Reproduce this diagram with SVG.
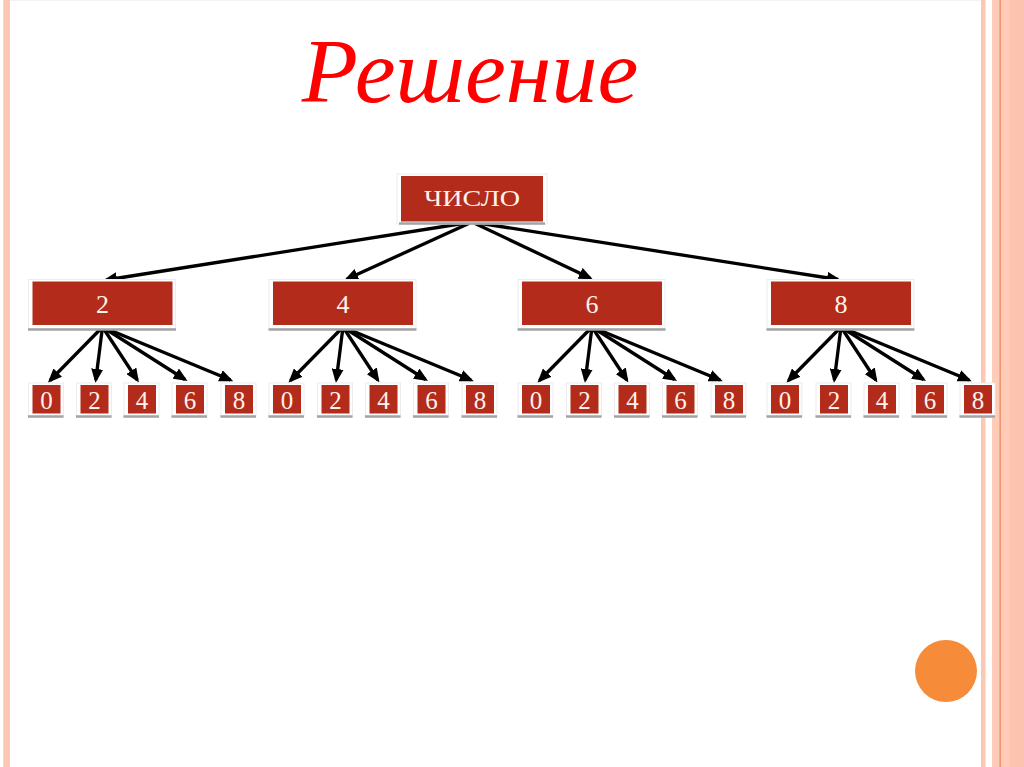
<svg xmlns="http://www.w3.org/2000/svg" width="1024" height="767" viewBox="0 0 1024 767">
<style>
.box{fill:#B32B1A}
.halo{fill:#fff;stroke:#ececec;stroke-width:1}
.sh{stroke:#a3a3a3;stroke-width:2.5}
.lbl{font-family:"Liberation Serif","DejaVu Serif",serif;fill:#FFF1EC;text-anchor:middle}
.edge{stroke:#000;stroke-width:3.3;fill:none;marker-end:url(#ah)}
</style>
<defs>
<marker id="ah" markerUnits="userSpaceOnUse" markerWidth="14" markerHeight="12" refX="11" refY="6" orient="auto">
<path d="M0,0 L14,6 L0,12 z" fill="#000"/>
</marker>
</defs>
<rect width="1024" height="767" fill="#fff"/>
<!-- frame stripes -->
<rect x="3.3" y="0" width="6.7" height="767" fill="#FCC8B4"/>
<rect x="981" y="0" width="4.5" height="767" fill="#FCC8B4"/>
<rect x="992" y="0" width="32" height="767" fill="#FDCBB8"/>
<rect x="1010" y="0" width="14" height="767" fill="#FCC3AE"/>
<rect x="999.5" y="0" width="1.3" height="767" fill="#EE8A5E"/>
<line x1="10" y1="0.5" x2="981" y2="0.5" stroke="#f3f3f3" stroke-width="1"/>
<circle cx="946" cy="671" r="31" fill="#F68B39"/>
<text x="470" y="102" font-family="'Liberation Serif','DejaVu Serif',serif" font-style="italic" font-size="92" fill="#FF0000" text-anchor="middle">Решение</text>

<g id="connectors">
<line class="edge" x1="472" y1="222" x2="106" y2="280"/>
<line class="edge" x1="472" y1="222" x2="347" y2="279"/>
<line class="edge" x1="472" y1="222" x2="590" y2="278"/>
<line class="edge" x1="472" y1="222" x2="838" y2="279.5"/>

<line class="edge" x1="102.5" y1="327" x2="50" y2="380.5"/>
<line class="edge" x1="102.5" y1="327" x2="95.8" y2="380"/>
<line class="edge" x1="102.5" y1="327" x2="137.3" y2="380"/>
<line class="edge" x1="102.5" y1="327" x2="185" y2="379.5"/>
<line class="edge" x1="102.5" y1="327" x2="230.5" y2="380"/>

<line class="edge" x1="343" y1="327" x2="290.5" y2="380.5"/>
<line class="edge" x1="343" y1="327" x2="336.3" y2="380"/>
<line class="edge" x1="343" y1="327" x2="377.8" y2="380"/>
<line class="edge" x1="343" y1="327" x2="425.5" y2="379.5"/>
<line class="edge" x1="343" y1="327" x2="471" y2="380"/>

<line class="edge" x1="592" y1="327" x2="539.5" y2="380.5"/>
<line class="edge" x1="592" y1="327" x2="585.3" y2="380"/>
<line class="edge" x1="592" y1="327" x2="626.8" y2="380"/>
<line class="edge" x1="592" y1="327" x2="674.5" y2="379.5"/>
<line class="edge" x1="592" y1="327" x2="720" y2="380"/>

<line class="edge" x1="841" y1="327" x2="788.5" y2="380.5"/>
<line class="edge" x1="841" y1="327" x2="834.3" y2="380"/>
<line class="edge" x1="841" y1="327" x2="875.8" y2="380"/>
<line class="edge" x1="841" y1="327" x2="923.5" y2="379.5"/>
<line class="edge" x1="841" y1="327" x2="969" y2="380"/>
</g>

<g id="n-root">
<rect class="halo" x="397" y="174" width="150" height="50"/>
<line class="sh" x1="399" y1="223.5" x2="545" y2="223.5"/>
<rect class="box" x="401" y="176" width="142" height="45.5"/>
<text class="lbl" x="472" y="206" font-size="24" textLength="96" lengthAdjust="spacingAndGlyphs">ЧИСЛО</text>
</g>

<g id="n-2">
<rect class="halo" x="28.5" y="279.5" width="147" height="49"/>
<line class="sh" x1="28" y1="329.5" x2="176" y2="329.5"/>
<rect class="box" x="32.5" y="281.5" width="140" height="43.5"/>
<text class="lbl" x="102.5" y="313" font-size="26">2</text>
</g>
<g id="n-4">
<rect class="halo" x="269" y="279.5" width="147" height="49"/>
<line class="sh" x1="268.5" y1="329.5" x2="416.5" y2="329.5"/>
<rect class="box" x="273" y="281.5" width="140" height="43.5"/>
<text class="lbl" x="343" y="313" font-size="26">4</text>
</g>
<g id="n-6">
<rect class="halo" x="518" y="279.5" width="147" height="49"/>
<line class="sh" x1="517.5" y1="329.5" x2="665.5" y2="329.5"/>
<rect class="box" x="522" y="281.5" width="140" height="43.5"/>
<text class="lbl" x="592" y="313" font-size="26">6</text>
</g>
<g id="n-8">
<rect class="halo" x="767" y="279.5" width="147" height="49"/>
<line class="sh" x1="766.5" y1="329.5" x2="914.5" y2="329.5"/>
<rect class="box" x="771" y="281.5" width="140" height="43.5"/>
<text class="lbl" x="841" y="313" font-size="26">8</text>
</g>

<!-- leaves group 2 -->
<g id="l-2-0"><rect class="halo" x="28.5" y="383" width="35" height="34"/><line class="sh" x1="28" y1="416.5" x2="63.5" y2="416.5"/><rect class="box" x="32.5" y="385" width="28" height="28.5"/><text class="lbl" x="46.5" y="409" font-size="25">0</text></g>
<g id="l-2-2"><rect class="halo" x="76.5" y="383" width="35" height="34"/><line class="sh" x1="76" y1="416.5" x2="111.5" y2="416.5"/><rect class="box" x="80.5" y="385" width="28" height="28.5"/><text class="lbl" x="94.5" y="409" font-size="25">2</text></g>
<g id="l-2-4"><rect class="halo" x="124" y="383" width="35" height="34"/><line class="sh" x1="123.5" y1="416.5" x2="159" y2="416.5"/><rect class="box" x="128" y="385" width="28" height="28.5"/><text class="lbl" x="142" y="409" font-size="25">4</text></g>
<g id="l-2-6"><rect class="halo" x="172" y="383" width="35" height="34"/><line class="sh" x1="171.5" y1="416.5" x2="207" y2="416.5"/><rect class="box" x="176" y="385" width="28" height="28.5"/><text class="lbl" x="190" y="409" font-size="25">6</text></g>
<g id="l-2-8"><rect class="halo" x="221" y="383" width="35" height="34"/><line class="sh" x1="220.5" y1="416.5" x2="256" y2="416.5"/><rect class="box" x="225" y="385" width="28" height="28.5"/><text class="lbl" x="239" y="409" font-size="25">8</text></g>

<!-- leaves group 4 -->
<g id="l-4-0"><rect class="halo" x="269" y="383" width="35" height="34"/><line class="sh" x1="268.5" y1="416.5" x2="304" y2="416.5"/><rect class="box" x="273" y="385" width="28" height="28.5"/><text class="lbl" x="287" y="409" font-size="25">0</text></g>
<g id="l-4-2"><rect class="halo" x="317.5" y="383" width="35" height="34"/><line class="sh" x1="317" y1="416.5" x2="352.5" y2="416.5"/><rect class="box" x="321.5" y="385" width="28" height="28.5"/><text class="lbl" x="335.5" y="409" font-size="25">2</text></g>
<g id="l-4-4"><rect class="halo" x="365.5" y="383" width="35" height="34"/><line class="sh" x1="365" y1="416.5" x2="400.5" y2="416.5"/><rect class="box" x="369.5" y="385" width="28" height="28.5"/><text class="lbl" x="383.5" y="409" font-size="25">4</text></g>
<g id="l-4-6"><rect class="halo" x="413.5" y="383" width="35" height="34"/><line class="sh" x1="413" y1="416.5" x2="448.5" y2="416.5"/><rect class="box" x="417.5" y="385" width="28" height="28.5"/><text class="lbl" x="431.5" y="409" font-size="25">6</text></g>
<g id="l-4-8"><rect class="halo" x="462" y="383" width="35" height="34"/><line class="sh" x1="461.5" y1="416.5" x2="497" y2="416.5"/><rect class="box" x="466" y="385" width="28" height="28.5"/><text class="lbl" x="480" y="409" font-size="25">8</text></g>

<!-- leaves group 6 -->
<g id="l-6-0"><rect class="halo" x="518" y="383" width="35" height="34"/><line class="sh" x1="517.5" y1="416.5" x2="553" y2="416.5"/><rect class="box" x="522" y="385" width="28" height="28.5"/><text class="lbl" x="536" y="409" font-size="25">0</text></g>
<g id="l-6-2"><rect class="halo" x="566.5" y="383" width="35" height="34"/><line class="sh" x1="566" y1="416.5" x2="601.5" y2="416.5"/><rect class="box" x="570.5" y="385" width="28" height="28.5"/><text class="lbl" x="584.5" y="409" font-size="25">2</text></g>
<g id="l-6-4"><rect class="halo" x="614.5" y="383" width="35" height="34"/><line class="sh" x1="614" y1="416.5" x2="649.5" y2="416.5"/><rect class="box" x="618.5" y="385" width="28" height="28.5"/><text class="lbl" x="632.5" y="409" font-size="25">4</text></g>
<g id="l-6-6"><rect class="halo" x="662.5" y="383" width="35" height="34"/><line class="sh" x1="662" y1="416.5" x2="697.5" y2="416.5"/><rect class="box" x="666.5" y="385" width="28" height="28.5"/><text class="lbl" x="680.5" y="409" font-size="25">6</text></g>
<g id="l-6-8"><rect class="halo" x="711" y="383" width="35" height="34"/><line class="sh" x1="710.5" y1="416.5" x2="746" y2="416.5"/><rect class="box" x="715" y="385" width="28" height="28.5"/><text class="lbl" x="729" y="409" font-size="25">8</text></g>

<!-- leaves group 8 -->
<g id="l-8-0"><rect class="halo" x="767" y="383" width="35" height="34"/><line class="sh" x1="766.5" y1="416.5" x2="802" y2="416.5"/><rect class="box" x="771" y="385" width="28" height="28.5"/><text class="lbl" x="785" y="409" font-size="25">0</text></g>
<g id="l-8-2"><rect class="halo" x="816" y="383" width="35" height="34"/><line class="sh" x1="815.5" y1="416.5" x2="851" y2="416.5"/><rect class="box" x="820" y="385" width="28" height="28.5"/><text class="lbl" x="834" y="409" font-size="25">2</text></g>
<g id="l-8-4"><rect class="halo" x="864" y="383" width="35" height="34"/><line class="sh" x1="863.5" y1="416.5" x2="899" y2="416.5"/><rect class="box" x="868" y="385" width="28" height="28.5"/><text class="lbl" x="882" y="409" font-size="25">4</text></g>
<g id="l-8-6"><rect class="halo" x="912" y="383" width="35" height="34"/><line class="sh" x1="911.5" y1="416.5" x2="947" y2="416.5"/><rect class="box" x="916" y="385" width="28" height="28.5"/><text class="lbl" x="930" y="409" font-size="25">6</text></g>
<g id="l-8-8"><rect class="halo" x="960" y="383" width="35" height="34"/><line class="sh" x1="959.5" y1="416.5" x2="995" y2="416.5"/><rect class="box" x="964" y="385" width="28" height="28.5"/><text class="lbl" x="978" y="409" font-size="25">8</text></g>
</svg>
